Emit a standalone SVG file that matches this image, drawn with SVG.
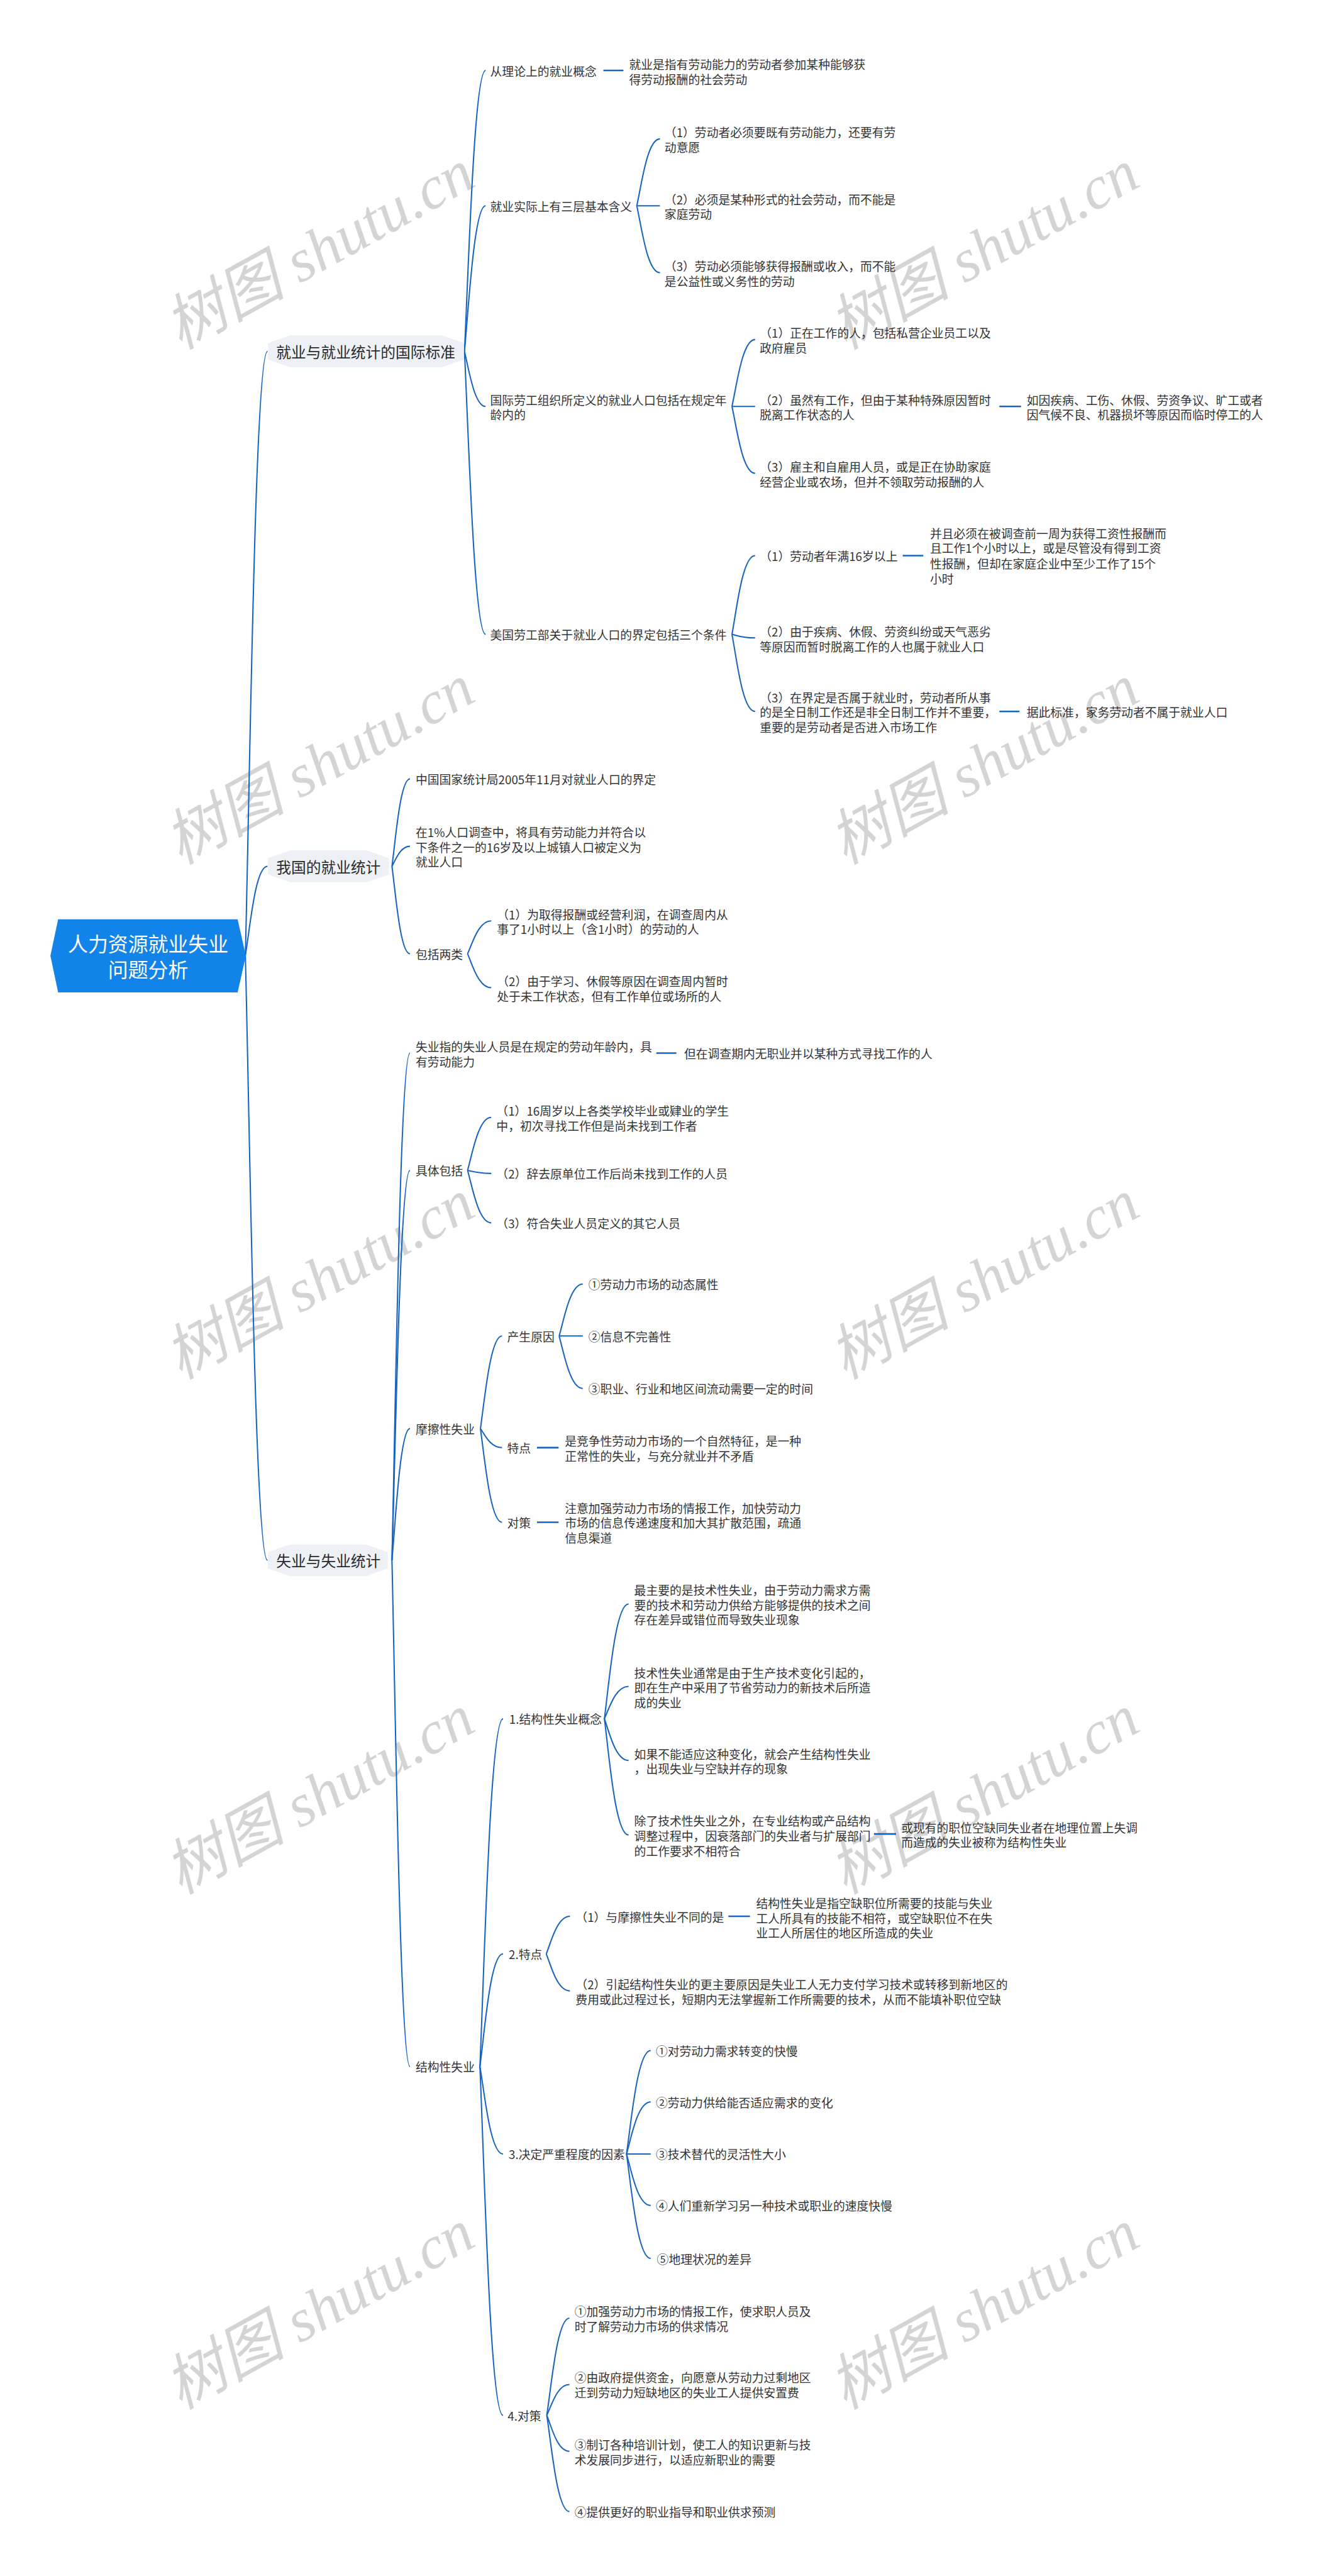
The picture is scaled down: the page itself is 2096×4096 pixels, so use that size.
<svg xmlns="http://www.w3.org/2000/svg" width="2096" height="4096" viewBox="0 0 2096 4096">
<style>
text{font-family:"Noto Sans CJK SC","Noto Sans CJK JP",sans-serif;dominant-baseline:central;fill:#333}
.t{font-size:23px}
.b{font-size:29px;fill:#2b2b2b}
.r{font-size:39px;fill:#fff}
.wm{font-family:"Liberation Serif","Noto Sans CJK SC",serif;font-style:italic;font-weight:normal;font-size:118px;fill:#d4d4d4;dominant-baseline:auto}
.c{fill:none;stroke:#1764c0;stroke-width:2.5}
.s{fill:none;stroke:#1764c0;stroke-width:3.2}
.box{fill:#edf0f5}
</style>
<rect width="2096" height="4096" fill="#fff"/>
<g transform="scale(0.818)">
<g id="watermark">
<text class="wm" x="640" y="520" text-anchor="middle" transform="rotate(-29 640 520)">树图 shutu.cn</text>
<text class="wm" x="1932" y="520" text-anchor="middle" transform="rotate(-29 1932 520)">树图 shutu.cn</text>
<text class="wm" x="640" y="1521" text-anchor="middle" transform="rotate(-29 640 1521)">树图 shutu.cn</text>
<text class="wm" x="1932" y="1521" text-anchor="middle" transform="rotate(-29 1932 1521)">树图 shutu.cn</text>
<text class="wm" x="640" y="2522" text-anchor="middle" transform="rotate(-29 640 2522)">树图 shutu.cn</text>
<text class="wm" x="1932" y="2522" text-anchor="middle" transform="rotate(-29 1932 2522)">树图 shutu.cn</text>
<text class="wm" x="640" y="3523" text-anchor="middle" transform="rotate(-29 640 3523)">树图 shutu.cn</text>
<text class="wm" x="1932" y="3523" text-anchor="middle" transform="rotate(-29 1932 3523)">树图 shutu.cn</text>
<text class="wm" x="640" y="4524" text-anchor="middle" transform="rotate(-29 640 4524)">树图 shutu.cn</text>
<text class="wm" x="1932" y="4524" text-anchor="middle" transform="rotate(-29 1932 4524)">树图 shutu.cn</text>
</g>
<g id="connectors">
<path class="c" d="M477 1857 C486 1505 496 683 520 683"/>
<path class="c" d="M477 1857 C486 1805 496 1684 520 1684"/>
<path class="c" d="M477 1857 C486 2210 496 3033 520 3033"/>
<path class="c" d="M903 683 C911 519 922 137 944 137"/>
<path class="c" d="M903 683 C911 598 922 400 944 400"/>
<path class="c" d="M903 683 C911 715 922 790 944 790"/>
<path class="c" d="M903 683 C911 848 922 1233 944 1233"/>
<path class="s" d="M1173 137 H1212"/>
<path class="c" d="M1238 400 C1247 361 1258 270 1283 270"/>
<path class="c" d="M1238 400 L1283 400"/>
<path class="c" d="M1238 400 C1247 439 1258 530 1283 530"/>
<path class="c" d="M1423 790 C1432 751 1443 660 1468 660"/>
<path class="c" d="M1423 790 L1468 790"/>
<path class="c" d="M1423 790 C1432 829 1443 920 1468 920"/>
<path class="s" d="M1943 790 H1985"/>
<path class="c" d="M1423 1233 C1432 1187 1443 1080 1468 1080"/>
<path class="c" d="M1423 1233 C1432 1235 1443 1240 1468 1240"/>
<path class="c" d="M1423 1233 C1432 1278 1443 1383 1468 1383"/>
<path class="s" d="M1755 1080 H1795"/>
<path class="s" d="M1943 1383 H1982"/>
<path class="c" d="M762 1684 C769 1633 778 1514 797 1514"/>
<path class="c" d="M762 1684 C769 1672 778 1645 797 1645"/>
<path class="c" d="M762 1684 C769 1735 778 1854 797 1854"/>
<path class="c" d="M909 1854 C918 1835 930 1790 955 1790"/>
<path class="c" d="M909 1854 C918 1874 930 1920 955 1920"/>
<path class="c" d="M762 3033 C769 2737 778 2047 797 2047"/>
<path class="c" d="M762 3033 C769 2806 778 2275 797 2275"/>
<path class="c" d="M762 3033 C769 2956 778 2777 797 2777"/>
<path class="c" d="M762 3033 C769 3328 778 4017 797 4017"/>
<path class="s" d="M1276 2047 H1315"/>
<path class="c" d="M909 2275 C918 2244 930 2172 955 2172"/>
<path class="c" d="M909 2275 C918 2277 930 2281 955 2281"/>
<path class="c" d="M909 2275 C918 2306 930 2377 955 2377"/>
<path class="c" d="M934 2777 C942 2723 953 2597 976 2597"/>
<path class="c" d="M934 2777 C942 2788 953 2814 976 2814"/>
<path class="c" d="M934 2777 C942 2832 953 2959 976 2959"/>
<path class="c" d="M1087 2597 C1096 2567 1108 2496 1133 2496"/>
<path class="c" d="M1087 2597 L1133 2597"/>
<path class="c" d="M1087 2597 C1096 2628 1108 2699 1133 2699"/>
<path class="s" d="M1044 2814 H1086"/>
<path class="s" d="M1044 2959 H1086"/>
<path class="c" d="M933 4017 C942 3814 953 3341 978 3341"/>
<path class="c" d="M933 4017 C942 3951 953 3798 978 3798"/>
<path class="c" d="M933 4017 C942 4068 953 4187 978 4187"/>
<path class="c" d="M933 4017 C942 4220 953 4695 978 4695"/>
<path class="c" d="M1175 3341 C1184 3274 1196 3118 1222 3118"/>
<path class="c" d="M1175 3341 C1184 3322 1196 3278 1222 3278"/>
<path class="c" d="M1175 3341 C1184 3365 1196 3422 1222 3422"/>
<path class="c" d="M1175 3341 C1184 3409 1196 3567 1222 3567"/>
<path class="s" d="M1699 3565 H1742"/>
<path class="c" d="M1062 3798 C1071 3776 1083 3725 1108 3725"/>
<path class="c" d="M1062 3798 C1071 3820 1083 3870 1108 3870"/>
<path class="s" d="M1416 3725 H1458"/>
<path class="c" d="M1218 4187 C1227 4127 1239 3986 1265 3986"/>
<path class="c" d="M1218 4187 C1227 4157 1239 4086 1265 4086"/>
<path class="c" d="M1218 4187 L1265 4187"/>
<path class="c" d="M1218 4187 C1227 4217 1239 4287 1265 4287"/>
<path class="c" d="M1218 4187 C1227 4248 1239 4390 1265 4390"/>
<path class="c" d="M1063 4695 C1072 4638 1083 4506 1107 4506"/>
<path class="c" d="M1063 4695 C1072 4677 1083 4635 1107 4635"/>
<path class="c" d="M1063 4695 C1072 4716 1083 4765 1107 4765"/>
<path class="c" d="M1063 4695 C1072 4751 1083 4882 1107 4882"/>
</g>
<g id="root">
<polygon points="113,1787 462,1787 478,1858 462,1929 113,1929 98,1858" fill="#1283e8"/>
<text class="r" x="288" y="1833" text-anchor="middle">人力资源就业失业</text>
<text class="r" x="288" y="1883" text-anchor="middle">问题分析</text>
</g>
<g id="n-intl">
<polygon class="box" points="564,652 859,652 902,667 902,699 859,714 564,714 521,699 521,667"/>
<text class="b" x="537" y="683">就业与就业统计的国际标准</text>
</g>
<g id="n-theory"><text class="t" x="953" y="137">从理论上的就业概念</text></g>
<g id="n-theory-def"><text class="t" x="1223"><tspan x="1223" y="124">就业是指有劳动能力的劳动者参加某种能够获</tspan><tspan x="1223" y="153">得劳动报酬的社会劳动</tspan></text></g>
<g id="n-three"><text class="t" x="953" y="400">就业实际上有三层基本含义</text></g>
<g id="n-three-1"><text class="t"><tspan x="1292" y="256">（1）劳动者必须要既有劳动能力，还要有劳</tspan><tspan x="1292" y="285">动意愿</tspan></text></g>
<g id="n-three-2"><text class="t"><tspan x="1292" y="386">（2）必须是某种形式的社会劳动，而不能是</tspan><tspan x="1292" y="415">家庭劳动</tspan></text></g>
<g id="n-three-3"><text class="t"><tspan x="1292" y="516">（3）劳动必须能够获得报酬或收入，而不能</tspan><tspan x="1292" y="545">是公益性或义务性的劳动</tspan></text></g>
<g id="n-ilo"><text class="t"><tspan x="953" y="776">国际劳工组织所定义的就业人口包括在规定年</tspan><tspan x="953" y="805">龄内的</tspan></text></g>
<g id="n-ilo-1"><text class="t"><tspan x="1477" y="646">（1）正在工作的人，包括私营企业员工以及</tspan><tspan x="1477" y="675">政府雇员</tspan></text></g>
<g id="n-ilo-2"><text class="t"><tspan x="1477" y="776">（2）虽然有工作，但由于某种特殊原因暂时</tspan><tspan x="1477" y="805">脱离工作状态的人</tspan></text></g>
<g id="n-ilo-2a"><text class="t"><tspan x="1996" y="776">如因疾病、工伤、休假、劳资争议、旷工或者</tspan><tspan x="1996" y="805">因气候不良、机器损坏等原因而临时停工的人</tspan></text></g>
<g id="n-ilo-3"><text class="t"><tspan x="1477" y="906">（3）雇主和自雇用人员，或是正在协助家庭</tspan><tspan x="1477" y="935">经营企业或农场，但并不领取劳动报酬的人</tspan></text></g>
<g id="n-us"><text class="t" x="953" y="1233">美国劳工部关于就业人口的界定包括三个条件</text></g>
<g id="n-us-1"><text class="t" x="1477" y="1080">（1）劳动者年满16岁以上</text></g>
<g id="n-us-1a"><text class="t"><tspan x="1808" y="1035">并且必须在被调查前一周为获得工资性报酬而</tspan><tspan x="1808" y="1064">且工作1个小时以上，或是尽管没有得到工资</tspan><tspan x="1808" y="1094">性报酬，但却在家庭企业中至少工作了15个</tspan><tspan x="1808" y="1123">小时</tspan></text></g>
<g id="n-us-2"><text class="t"><tspan x="1477" y="1226">（2）由于疾病、休假、劳资纠纷或天气恶劣</tspan><tspan x="1477" y="1255">等原因而暂时脱离工作的人也属于就业人口</tspan></text></g>
<g id="n-us-3"><text class="t"><tspan x="1477" y="1354">（3）在界定是否属于就业时，劳动者所从事</tspan><tspan x="1477" y="1383">的是全日制工作还是非全日制工作并不重要，</tspan><tspan x="1477" y="1412">重要的是劳动者是否进入市场工作</tspan></text></g>
<g id="n-us-3a"><text class="t" x="1996" y="1383">据此标准，家务劳动者不属于就业人口</text></g>
<g id="n-cn">
<polygon class="box" points="564,1653 713,1653 756,1668 756,1700 713,1715 564,1715 521,1700 521,1668"/>
<text class="b" x="537" y="1684">我国的就业统计</text>
</g>
<g id="n-cn-1"><text class="t" x="808" y="1514">中国国家统计局2005年11月对就业人口的界定</text></g>
<g id="n-cn-2"><text class="t"><tspan x="808" y="1616">在1%人口调查中，将具有劳动能力并符合以</tspan><tspan x="808" y="1645">下条件之一的16岁及以上城镇人口被定义为</tspan><tspan x="808" y="1674">就业人口</tspan></text></g>
<g id="n-cn-3"><text class="t" x="808" y="1854">包括两类</text></g>
<g id="n-cn-3-1"><text class="t"><tspan x="966" y="1776">（1）为取得报酬或经营利润，在调查周内从</tspan><tspan x="966" y="1805">事了1小时以上（含1小时）的劳动的人</tspan></text></g>
<g id="n-cn-3-2"><text class="t"><tspan x="966" y="1906">（2）由于学习、休假等原因在调查周内暂时</tspan><tspan x="966" y="1935">处于未工作状态，但有工作单位或场所的人</tspan></text></g>
<g id="n-un">
<polygon class="box" points="564,3002 711,3002 754,3017 754,3049 711,3064 564,3064 521,3049 521,3017"/>
<text class="b" x="537" y="3033">失业与失业统计</text>
</g>
<g id="n-un-def"><text class="t"><tspan x="808" y="2033">失业指的失业人员是在规定的劳动年龄内，具</tspan><tspan x="808" y="2062">有劳动能力</tspan></text></g>
<g id="n-un-def-a"><text class="t" x="1330" y="2047">但在调查期内无职业并以某种方式寻找工作的人</text></g>
<g id="n-un-inc"><text class="t" x="808" y="2275">具体包括</text></g>
<g id="n-un-inc-1"><text class="t"><tspan x="965" y="2158">（1）16周岁以上各类学校毕业或肄业的学生</tspan><tspan x="965" y="2187">中，初次寻找工作但是尚未找到工作者</tspan></text></g>
<g id="n-un-inc-2"><text class="t" x="965" y="2281">（2）辞去原单位工作后尚未找到工作的人员</text></g>
<g id="n-un-inc-3"><text class="t" x="965" y="2377">（3）符合失业人员定义的其它人员</text></g>
<g id="n-fr"><text class="t" x="808" y="2777">摩擦性失业</text></g>
<g id="n-fr-cause"><text class="t" x="986" y="2597">产生原因</text></g>
<g id="n-fr-cause-1"><text class="t" x="1144" y="2496">①劳动力市场的动态属性</text></g>
<g id="n-fr-cause-2"><text class="t" x="1144" y="2597">②信息不完善性</text></g>
<g id="n-fr-cause-3"><text class="t" x="1144" y="2699">③职业、行业和地区间流动需要一定的时间</text></g>
<g id="n-fr-feat"><text class="t" x="986" y="2814">特点</text></g>
<g id="n-fr-feat-a"><text class="t"><tspan x="1098" y="2800">是竞争性劳动力市场的一个自然特征，是一种</tspan><tspan x="1098" y="2829">正常性的失业，与充分就业并不矛盾</tspan></text></g>
<g id="n-fr-pol"><text class="t" x="986" y="2959">对策</text></g>
<g id="n-fr-pol-a"><text class="t"><tspan x="1098" y="2930">注意加强劳动力市场的情报工作，加快劳动力</tspan><tspan x="1098" y="2959">市场的信息传递速度和加大其扩散范围，疏通</tspan><tspan x="1098" y="2988">信息渠道</tspan></text></g>
<g id="n-st"><text class="t" x="808" y="4017">结构性失业</text></g>
<g id="n-st-1"><text class="t" x="990" y="3341">1.结构性失业概念</text></g>
<g id="n-st-1-1"><text class="t"><tspan x="1233" y="3089">最主要的是技术性失业，由于劳动力需求方需</tspan><tspan x="1233" y="3118">要的技术和劳动力供给方能够提供的技术之间</tspan><tspan x="1233" y="3147">存在差异或错位而导致失业现象</tspan></text></g>
<g id="n-st-1-2"><text class="t"><tspan x="1233" y="3250">技术性失业通常是由于生产技术变化引起的，</tspan><tspan x="1233" y="3279">即在生产中采用了节省劳动力的新技术后所造</tspan><tspan x="1233" y="3308">成的失业</tspan></text></g>
<g id="n-st-1-3"><text class="t"><tspan x="1233" y="3408">如果不能适应这种变化，就会产生结构性失业</tspan><tspan x="1233" y="3437">，出现失业与空缺并存的现象</tspan></text></g>
<g id="n-st-1-4"><text class="t"><tspan x="1233" y="3538">除了技术性失业之外，在专业结构或产品结构</tspan><tspan x="1233" y="3567">调整过程中，因衰落部门的失业者与扩展部门</tspan><tspan x="1233" y="3596">的工作要求不相符合</tspan></text></g>
<g id="n-st-1-4a"><text class="t"><tspan x="1752" y="3551">或现有的职位空缺同失业者在地理位置上失调</tspan><tspan x="1752" y="3580">而造成的失业被称为结构性失业</tspan></text></g>
<g id="n-st-2"><text class="t" x="989" y="3798">2.特点</text></g>
<g id="n-st-2-1"><text class="t" x="1119" y="3725">（1）与摩擦性失业不同的是</text></g>
<g id="n-st-2-1a"><text class="t"><tspan x="1470" y="3698">结构性失业是指空缺职位所需要的技能与失业</tspan><tspan x="1470" y="3727">工人所具有的技能不相符，或空缺职位不在失</tspan><tspan x="1470" y="3756">业工人所居住的地区所造成的失业</tspan></text></g>
<g id="n-st-2-2"><text class="t"><tspan x="1119" y="3856">（2）引起结构性失业的更主要原因是失业工人无力支付学习技术或转移到新地区的</tspan><tspan x="1119" y="3885">费用或此过程过长，短期内无法掌握新工作所需要的技术，从而不能填补职位空缺</tspan></text></g>
<g id="n-st-3"><text class="t" x="989" y="4187">3.决定严重程度的因素</text></g>
<g id="n-st-3-1"><text class="t" x="1275" y="3986">①对劳动力需求转变的快慢</text></g>
<g id="n-st-3-2"><text class="t" x="1275" y="4086">②劳动力供给能否适应需求的变化</text></g>
<g id="n-st-3-3"><text class="t" x="1275" y="4187">③技术替代的灵活性大小</text></g>
<g id="n-st-3-4"><text class="t" x="1275" y="4287">④人们重新学习另一种技术或职业的速度快慢</text></g>
<g id="n-st-3-5"><text class="t" x="1277" y="4390">⑤地理状况的差异</text></g>
<g id="n-st-4"><text class="t" x="987" y="4695">4.对策</text></g>
<g id="n-st-4-1"><text class="t"><tspan x="1117" y="4492">①加强劳动力市场的情报工作，使求职人员及</tspan><tspan x="1117" y="4521">时了解劳动力市场的供求情况</tspan></text></g>
<g id="n-st-4-2"><text class="t"><tspan x="1117" y="4620">②由政府提供资金，向愿意从劳动力过剩地区</tspan><tspan x="1117" y="4649">迁到劳动力短缺地区的失业工人提供安置费</tspan></text></g>
<g id="n-st-4-3"><text class="t"><tspan x="1117" y="4751">③制订各种培训计划，使工人的知识更新与技</tspan><tspan x="1117" y="4780">术发展同步进行，以适应新职业的需要</tspan></text></g>
<g id="n-st-4-4"><text class="t" x="1117" y="4882">④提供更好的职业指导和职业供求预测</text></g>
</g>
</svg>
